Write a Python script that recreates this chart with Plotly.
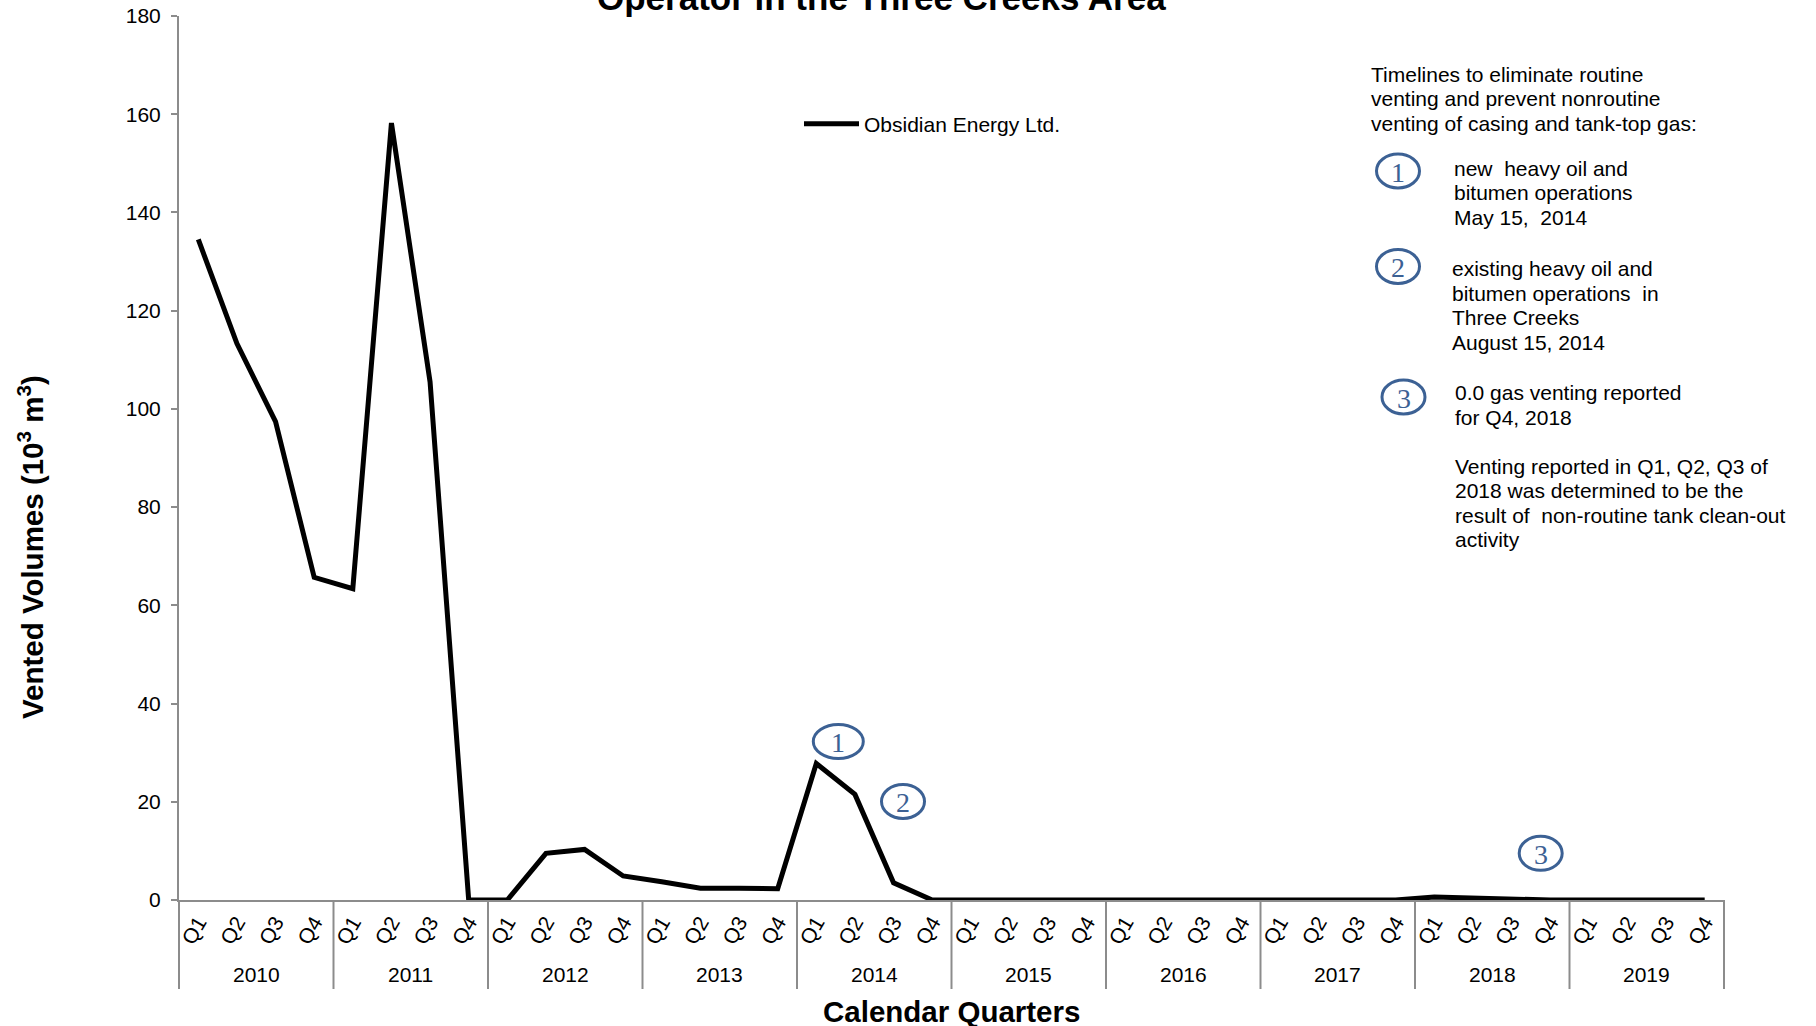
import plotly.graph_objects as go

years = ["2010", "2011", "2012", "2013", "2014", "2015", "2016", "2017", "2018", "2019"]
quarters = ["Q1", "Q2", "Q3", "Q4"]
vented = [134.5, 113.3, 97.4, 65.7,
          63.4, 158.2, 105.5, 0.0,
          0.0, 9.5, 10.3, 4.9,
          3.7, 2.4, 2.4, 2.3,
          27.8, 21.5, 3.5, 0.0,
          0.0, 0.0, 0.0, 0.0,
          0.0, 0.0, 0.0, 0.0,
          0.0, 0.0, 0.0, 0.0,
          0.6, 0.4, 0.0, 0.0,
          0.0, 0.0, 0.0, 0.0]
series_name = "Obsidian Energy Ltd."
title_text = "Operator in the Three Creeks Area"
y_title = "Vented Volumes (10<sup>3</sup> m<sup>3</sup>)"
x_title = "Calendar Quarters"
y_ticks = [0, 20, 40, 60, 80, 100, 120, 140, 160, 180]

notes_header = ["Timelines to eliminate routine",
                "venting and prevent nonroutine",
                "venting of casing and tank-top gas:"]
note1 = ["new  heavy oil and", "bitumen operations", "May 15,  2014"]
note2 = ["existing heavy oil and", "bitumen operations  in", "Three Creeks", "August 15, 2014"]
note3 = ["0.0 gas venting reported", "for Q4, 2018"]
note4 = ["Venting reported in Q1, Q2, Q3 of", "2018 was determined to be the",
         "result of  non-routine tank clean-out", "activity"]

OFF = 0  # page body margin removed via post_script
W, H = 1816, 1026
L, R, T, B = 179, 92, 16, 126
PW, PH = W - L - R, H - T - B
FONT = "Liberation Sans, Arial, sans-serif"
SERIF = "Liberation Serif, Times New Roman, serif"
BLUE = "#3c6194"
GRAY = "#8c8c8c"


def px(sx):
    return (sx - OFF - L) / PW


def py(sy):
    return (H - B - (sy - OFF)) / PH


x_cats = [f"{y} {q}" for y in years for q in quarters]
x_text = [q for _ in years for q in quarters]
n_per = len(quarters)
n_total = len(x_cats)

fig = go.Figure()
fig.add_trace(go.Scatter(
    x=x_cats, y=vented, mode="lines", name=series_name,
    line=dict(color="black", width=5), showlegend=True,
))

annotations = []
shapes = []

# title (only the lower line is visible in the reference)
annotations.append(dict(text="<b>" + title_text + "</b>", x=px(881), y=py(-2.5),
                        xref="paper", yref="paper", showarrow=False,
                        xanchor="center", yanchor="middle",
                        font=dict(family=FONT, size=35, color="black")))
# axis titles
annotations.append(dict(text="<b>" + y_title + "</b>", x=px(30), y=py(547),
                        xref="paper", yref="paper", showarrow=False, textangle=-90,
                        xanchor="center", yanchor="middle",
                        font=dict(family=FONT, size=29.5, color="black")))
annotations.append(dict(text="<b>" + x_title + "</b>", x=0.5, y=py(1011),
                        xref="paper", yref="paper", showarrow=False,
                        xanchor="center", yanchor="middle",
                        font=dict(family=FONT, size=29.5, color="black")))

# year group labels and dividers
for i, yr in enumerate(years):
    annotations.append(dict(text=yr, x=i * n_per + (n_per - 1) / 2, xref="x",
                            y=py(975), yref="paper", showarrow=False,
                            xanchor="center", yanchor="middle",
                            font=dict(family=FONT, size=21, color="black")))
for i in range(len(years) + 1):
    xf = i * n_per / n_total
    shapes.append(dict(type="line", xref="paper", yref="paper", x0=xf, x1=xf,
                       y0=0, y1=py(989), line=dict(color=GRAY, width=2)))


def add_lines(lines, x0, y0, step=24.5):
    for i, t in enumerate(lines):
        annotations.append(dict(text=t, x=px(x0), y=py(y0 + i * step),
                                xref="paper", yref="paper", showarrow=False,
                                xanchor="left", yanchor="middle",
                                font=dict(family=FONT, size=21, color="black")))


add_lines(notes_header, 1369, 74)
add_lines(note1, 1452, 168.5)
add_lines(note2, 1450, 268.5)
add_lines(note3, 1453, 392.5)
add_lines(note4, 1453, 466)


def add_circle(label, cx, cy, w=43, h=34):
    shapes.append(dict(type="circle", xref="paper", yref="paper",
                       x0=px(cx - w / 2), x1=px(cx + w / 2),
                       y0=py(cy + h / 2), y1=py(cy - h / 2),
                       line=dict(color=BLUE, width=3)))
    annotations.append(dict(text=label, x=px(cx), y=py(cy + 1),
                            xref="paper", yref="paper", showarrow=False,
                            xanchor="center", yanchor="middle",
                            font=dict(family=SERIF, size=28, color=BLUE)))


add_circle("1", 1398, 171)
add_circle("2", 1398, 266.5)
add_circle("3", 1403.5, 397)
add_circle("1", 838.3, 741.5, w=50)
add_circle("2", 903, 801.5)
add_circle("3", 1540.7, 853.3)

fig.update_layout(
    width=W, height=H,
    margin=dict(l=L, r=R, t=T, b=B, autoexpand=False),
    paper_bgcolor="white", plot_bgcolor="white",
    font=dict(family=FONT, size=21, color="black"),
    showlegend=True,
    legend=dict(x=px(799), y=py(124), xanchor="left", yanchor="middle",
                bgcolor="rgba(0,0,0,0)", font=dict(family=FONT, size=21, color="black"),
                itemwidth=55),
    annotations=annotations,
    shapes=shapes,
    xaxis=dict(type="category", tickvals=x_cats, ticktext=x_text,
               range=[-0.5, n_total - 0.5],
               showline=True, linecolor=GRAY, linewidth=2,
               showgrid=False, zeroline=False, ticks="", tickangle=-60,
               tickfont=dict(family=FONT, size=21, color="black"), automargin=False),
    yaxis=dict(range=[0, 180], tickvals=y_ticks, showline=True, linecolor=GRAY,
               linewidth=2, ticks="outside", ticklen=6, tickcolor=GRAY, tickwidth=2,
               showgrid=False, zeroline=False, ticklabelstandoff=6,
               ticklabeloverflow="allow",
               tickfont=dict(family=FONT, size=21, color="black"), automargin=False),
)

fig.write_html("out.html", config={"displayModeBar": False},
               post_script="document.body.style.margin='0';document.body.style.overflow='hidden';")
